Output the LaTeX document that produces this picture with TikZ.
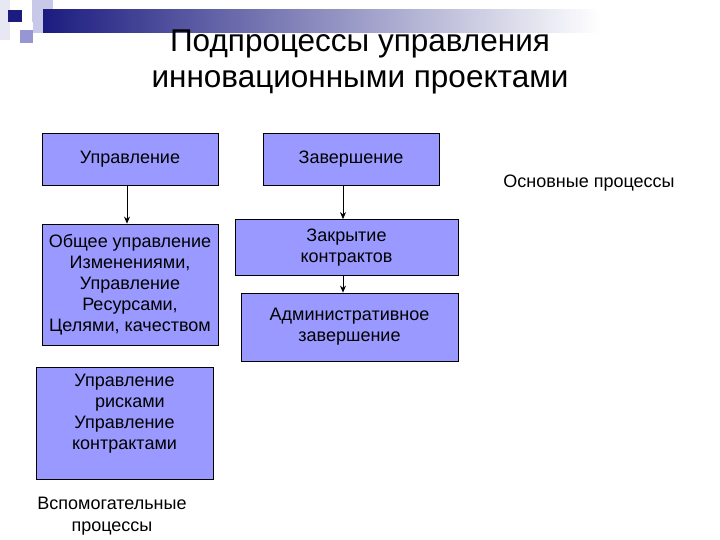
\documentclass[tikz,border=0pt]{standalone}
\usepackage{fontspec}
\setmainfont{Liberation Sans}
\usetikzlibrary{arrows.meta,calc}
\definecolor{boxfill}{RGB}{153,153,255}
\definecolor{navy}{RGB}{28,28,128}
\definecolor{lav1}{RGB}{200,200,232}
\definecolor{lav2}{RGB}{150,150,210}
\definecolor{lav3}{RGB}{232,232,244}
\tikzset{
  box/.style={draw=black, line width=0.8pt, fill=boxfill, align=center,
    font=\fontsize{18}{21}\selectfont, inner sep=0pt},
  plain/.style={align=center, font=\fontsize{18}{21.5}\selectfont, inner sep=0pt},
  arr/.style={-{Stealth[length=7pt,width=6pt]}, line width=0.8pt},
}
\begin{document}
\begin{tikzpicture}[x=1pt,y=-1pt]
\useasboundingbox (0,0) rectangle (720,540);
% decoration
\fill[lav3] (0,0) rectangle (10,40);
\fill[lav1] (32,0) rectangle (53,22);
\shade[left color=navy, right color=white, shading angle=90] (43,10) rectangle (600,33);
\fill[navy] (8,10) rectangle (22,22);
\fill[lav2] (20,30) rectangle (33,43);
\fill[lav1] (33,22) rectangle (43,33);
% title
\node[align=center, font=\fontsize{31.5}{35.5}\selectfont, inner sep=0pt] (title) at (360,62)
  {Подпроцессы управления\\инновационными проектами};
% boxes
\node[box, minimum width=176, minimum height=52] (A) at (130,159) {Управление};
\node[box, minimum width=176, minimum height=52] (B) at (351,159) {Завершение};
\node[box, minimum width=176, minimum height=121] (C) at (130,284.5)
  {Общее управление\\Изменениями,\\Управление\\Ресурсами,\\Целями, качеством};
\node[box, minimum width=223, minimum height=56] (D) at (346.5,247.5) {Закрытие\\контрактов};
\node[box, minimum width=217, minimum height=68] (E) at (349.5,327) {Административное\\завершение};
\node[box, minimum width=177, minimum height=112] (F) at (124.5,423) {};
\node[plain, font=\fontsize{18}{21}\selectfont] (Ft) at (124.5,414)
  {Управление\\\hspace*{0.6em}рисками\\Управление\\контрактами};
% labels
\node[plain] (main) at (589,183) {Основные процессы};
\node[plain] (aux) at (112,516) {Вспомогательные\\процессы};
% arrows
\draw[arr] ([xshift=-3]A.south) -- ([xshift=-3]A.south |- C.north);
\draw[arr] ([xshift=-8]B.south) -- ([xshift=-8]B.south |- D.north);
\draw[arr] ([xshift=-8]B.south |- D.south) -- ([xshift=-8]B.south |- E.north);
\end{tikzpicture}
\end{document}
